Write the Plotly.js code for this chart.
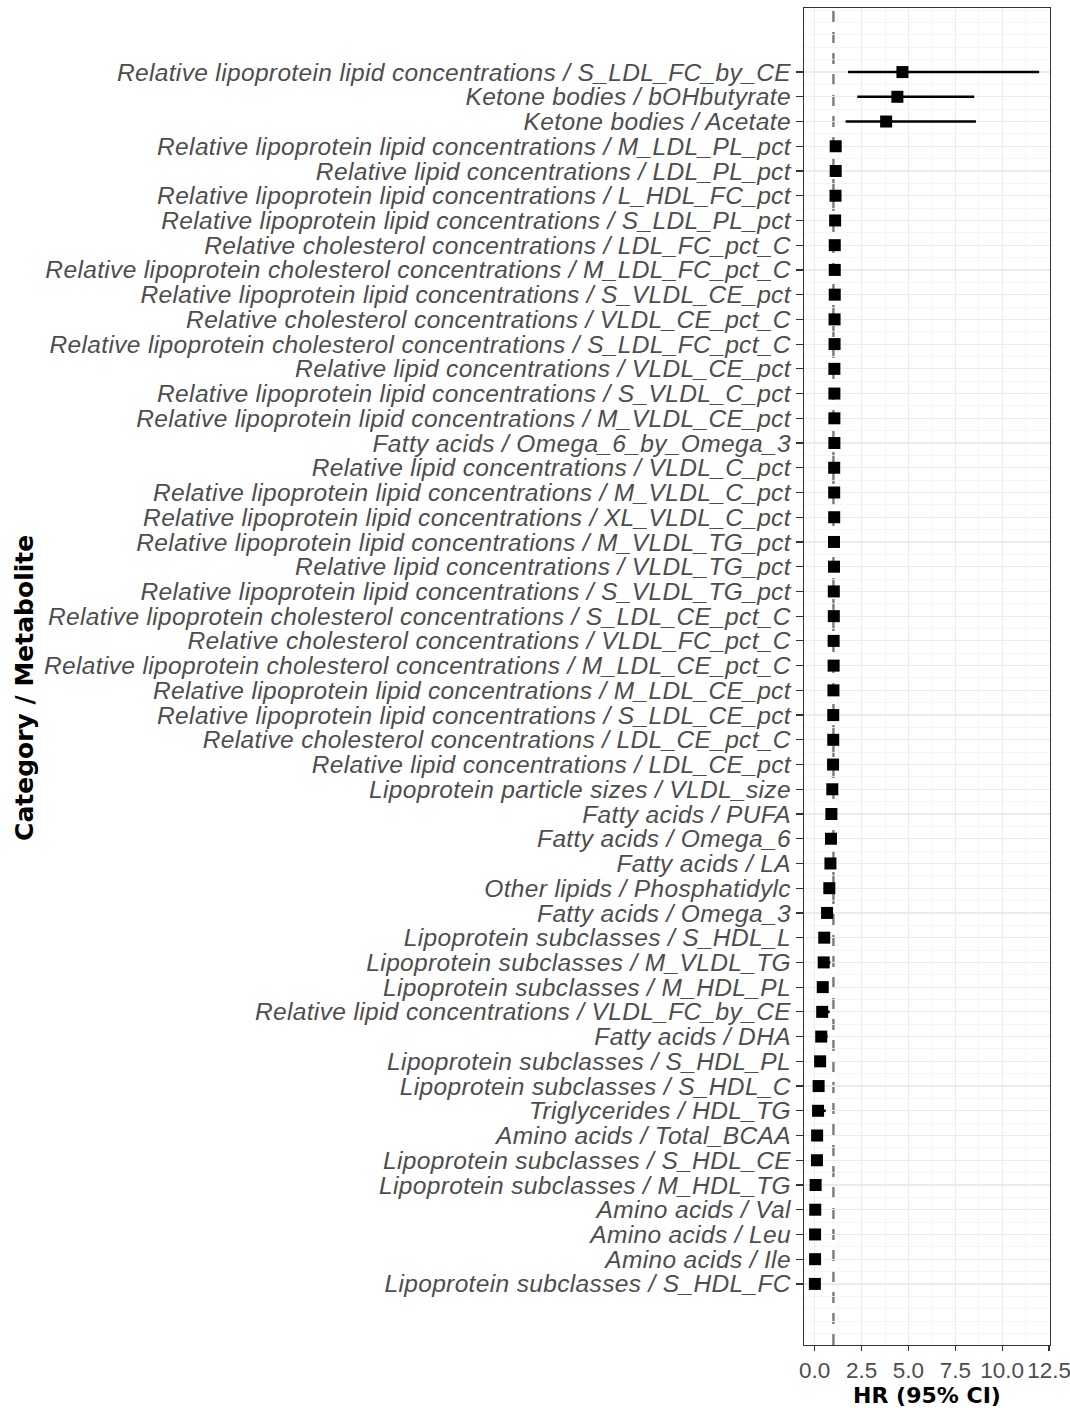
<!DOCTYPE html>
<html>
<head>
<meta charset="utf-8">
<script src="https://cdn.plot.ly/plotly-3.0.1.min.js"></script>
<style>
html,body{margin:0;padding:0;background:#fff;}
#chart{width:1070px;height:1408px;}
.yaxislayer-above .ytick text{letter-spacing:0.35px;}
</style>
</head>
<body>
<div id="chart"></div>
<script>
const labels = [
"Relative lipoprotein lipid concentrations / S_LDL_FC_by_CE",
"Ketone bodies / bOHbutyrate",
"Ketone bodies / Acetate",
"Relative lipoprotein lipid concentrations / M_LDL_PL_pct",
"Relative lipid concentrations / LDL_PL_pct",
"Relative lipoprotein lipid concentrations / L_HDL_FC_pct",
"Relative lipoprotein lipid concentrations / S_LDL_PL_pct",
"Relative cholesterol concentrations / LDL_FC_pct_C",
"Relative lipoprotein cholesterol concentrations / M_LDL_FC_pct_C",
"Relative lipoprotein lipid concentrations / S_VLDL_CE_pct",
"Relative cholesterol concentrations / VLDL_CE_pct_C",
"Relative lipoprotein cholesterol concentrations / S_LDL_FC_pct_C",
"Relative lipid concentrations / VLDL_CE_pct",
"Relative lipoprotein lipid concentrations / S_VLDL_C_pct",
"Relative lipoprotein lipid concentrations / M_VLDL_CE_pct",
"Fatty acids / Omega_6_by_Omega_3",
"Relative lipid concentrations / VLDL_C_pct",
"Relative lipoprotein lipid concentrations / M_VLDL_C_pct",
"Relative lipoprotein lipid concentrations / XL_VLDL_C_pct",
"Relative lipoprotein lipid concentrations / M_VLDL_TG_pct",
"Relative lipid concentrations / VLDL_TG_pct",
"Relative lipoprotein lipid concentrations / S_VLDL_TG_pct",
"Relative lipoprotein cholesterol concentrations / S_LDL_CE_pct_C",
"Relative cholesterol concentrations / VLDL_FC_pct_C",
"Relative lipoprotein cholesterol concentrations / M_LDL_CE_pct_C",
"Relative lipoprotein lipid concentrations / M_LDL_CE_pct",
"Relative lipoprotein lipid concentrations / S_LDL_CE_pct",
"Relative cholesterol concentrations / LDL_CE_pct_C",
"Relative lipid concentrations / LDL_CE_pct",
"Lipoprotein particle sizes / VLDL_size",
"Fatty acids / PUFA",
"Fatty acids / Omega_6",
"Fatty acids / LA",
"Other lipids / Phosphatidylc",
"Fatty acids / Omega_3",
"Lipoprotein subclasses / S_HDL_L",
"Lipoprotein subclasses / M_VLDL_TG",
"Lipoprotein subclasses / M_HDL_PL",
"Relative lipid concentrations / VLDL_FC_by_CE",
"Fatty acids / DHA",
"Lipoprotein subclasses / S_HDL_PL",
"Lipoprotein subclasses / S_HDL_C",
"Triglycerides / HDL_TG",
"Amino acids / Total_BCAA",
"Lipoprotein subclasses / S_HDL_CE",
"Lipoprotein subclasses / M_HDL_TG",
"Amino acids / Val",
"Amino acids / Leu",
"Amino acids / Ile",
"Lipoprotein subclasses / S_HDL_FC"
];

const hr = [4.68, 4.41, 3.81, 1.12, 1.12, 1.11, 1.09, 1.07, 1.07, 1.07,
            1.06, 1.06, 1.05, 1.05, 1.05, 1.05, 1.04, 1.04, 1.04, 1.03,
            1.03, 1.02, 1.02, 1.01, 1.01, 1.00, 0.99, 0.99, 0.98, 0.94,
            0.89, 0.87, 0.84, 0.78, 0.66, 0.51, 0.48, 0.43, 0.40, 0.35,
            0.29, 0.21, 0.18, 0.13, 0.12, 0.05, 0.03, 0.02, 0.02, 0.01];

const lower = [1.78, 2.27, 1.65, 1.02, 1.03, 1.02, 1.00, 0.99, 0.99, 0.98,
               0.98, 0.98, 0.97, 0.97, 0.97, 0.97, 0.96, 0.96, 0.96, 0.95,
               0.95, 0.94, 0.94, 0.93, 0.93, 0.92, 0.91, 0.91, 0.90, 0.86,
               0.80, 0.78, 0.75, 0.68, 0.50, 0.38, 0.30, 0.30, 0.22, 0.18,
               0.16, 0.10, 0.06, 0.04, 0.03, 0.01, 0.01, 0.00, 0.00, 0.00];

const upper = [11.97, 8.51, 8.60, 1.22, 1.22, 1.21, 1.18, 1.16, 1.16, 1.16,
               1.15, 1.15, 1.14, 1.14, 1.14, 1.14, 1.13, 1.13, 1.13, 1.12,
               1.12, 1.11, 1.11, 1.10, 1.10, 1.09, 1.08, 1.08, 1.07, 1.03,
               0.98, 0.96, 0.93, 0.88, 0.98, 0.70, 0.84, 0.62, 0.80, 0.69,
               0.48, 0.40, 0.59, 0.30, 0.28, 0.14, 0.12, 0.08, 0.08, 0.06];

const refLine = 1;
const xTickVals = [0, 2.5, 5, 7.5, 10, 12.5];
const xTickText = ["0.0", "2.5", "5.0", "7.5", "10.0", "12.5"];
const xTitle = "HR (95% CI)";
const yTitle = "Category / Metabolite";

const idx = labels.map((_, i) => i);

const trace = {
  type: "scatter",
  mode: "markers",
  x: hr,
  y: idx,
  marker: {symbol: "square", size: 12, color: "#000000"},
  error_x: {
    type: "data",
    symmetric: false,
    array: hr.map((v, i) => upper[i] - v),
    arrayminus: hr.map((v, i) => v - lower[i]),
    color: "#000000",
    thickness: 2.6,
    width: 0
  },
  hoverinfo: "x+y"
};

const layout = {
  width: 1070,
  height: 1408,
  margin: {l: 804, r: 20, t: 8, b: 63},
  paper_bgcolor: "#ffffff",
  plot_bgcolor: "#ffffff",
  showlegend: false,
  font: {family: "Liberation Sans, Arial, sans-serif", color: "#4D4D4D"},
  xaxis: {
    range: [-0.57, 12.55],
    tickmode: "array",
    tickvals: xTickVals,
    ticktext: xTickText,
    tickangle: 0,
    ticklabeloverflow: "allow",
    tickfont: {size: 22.5, color: "#4D4D4D", family: "Liberation Sans, Arial, sans-serif"},
    ticks: "outside",
    ticklen: 5,
    tickwidth: 1.2,
    tickcolor: "#333333",
    showgrid: true,
    gridcolor: "#EBEBEB",
    gridwidth: 1.2,
    minor: {dtick: 1.25, tick0: 0, showgrid: true, gridcolor: "#F4F4F4", gridwidth: 0.8, ticks: ""},
    zeroline: false,
    showline: true,
    mirror: true,
    linecolor: "#333333",
    linewidth: 1.2,
    title: {text: xTitle, font: {family: "DejaVu Sans, sans-serif", size: 22, color: "#000000", weight: "bold"}, standoff: 6}
  },
  yaxis: {
    range: [51.47, -2.59],
    tickmode: "array",
    tickvals: idx,
    ticktext: labels,
    tickfont: {size: 24.5, color: "#4D4D4D", family: "Liberation Sans, Arial, sans-serif", style: "italic"},
    ticks: "outside",
    ticklen: 7,
    tickwidth: 1.2,
    tickcolor: "#333333",
    showgrid: true,
    gridcolor: "#EBEBEB",
    gridwidth: 1.2,
    minor: {dtick: 0.5, tick0: 0.5, showgrid: true, gridcolor: "#F4F4F4", gridwidth: 0.8, ticks: ""},
    zeroline: false,
    showline: true,
    mirror: true,
    linecolor: "#333333",
    linewidth: 1.2
  },
  annotations: [{
    text: yTitle,
    xref: "paper", yref: "paper",
    x: -3.167, y: 0.4914,
    xanchor: "center", yanchor: "middle",
    textangle: -90,
    showarrow: false,
    font: {family: "DejaVu Sans, sans-serif", size: 25, color: "#000000", weight: "bold"}
  }],
  shapes: [{
    type: "line",
    xref: "x", yref: "paper",
    x0: refLine, x1: refLine, y0: 0, y1: 1,
    line: {color: "#7A7A7A", width: 2.4, dash: "11px,10px"},
    layer: "between"
  }]
};

Plotly.newPlot("chart", [trace], layout, {displayModeBar: false, staticPlot: true});
</script>
</body>
</html>
